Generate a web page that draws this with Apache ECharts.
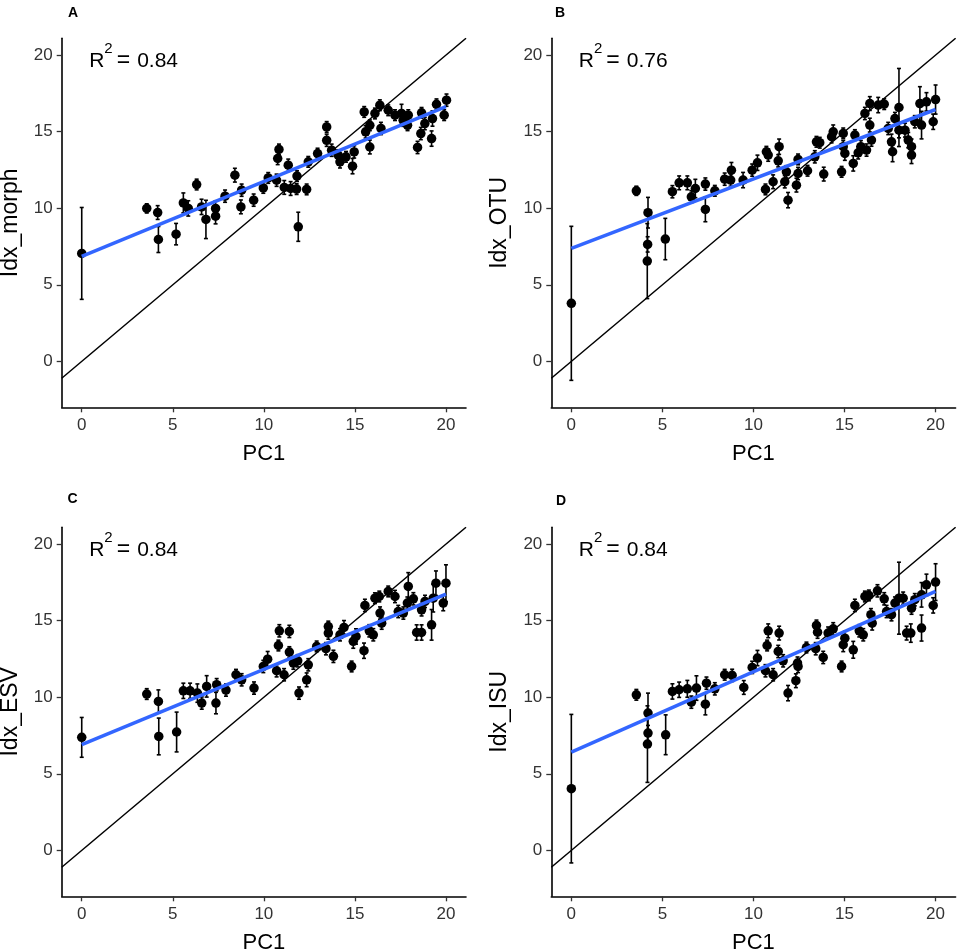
<!DOCTYPE html>
<html>
<head>
<meta charset="utf-8">
<title>Idx vs PC1</title>
<script src="https://cdn.jsdelivr.net/npm/echarts@6/dist/echarts.min.js"></script>
<style>
html, body { margin: 0; padding: 0; background: #fff; }
#main { width: 957px; height: 952px; }
</style>
</head>
<body>
<div id="main"></div>
<script>
// values: PC1 (x), index value (y), half-length of the error bar
var morphX = [0, 3.57, 4.17, 4.21, 5.18, 5.58, 5.85, 6.31, 6.58, 6.82, 7.35, 7.35, 7.87, 8.41, 8.74, 8.78, 9.44, 9.97, 10.24, 10.7, 10.76, 10.83, 11.12, 11.34, 11.47, 11.8, 11.82, 11.89, 12.35, 12.44, 12.95, 13.45, 13.45, 13.72, 14.08, 14.18, 14.51, 14.87, 14.96, 15.51, 15.59, 15.82, 15.82, 16.1, 16.37, 16.43, 16.83, 17.2, 17.56, 17.65, 17.89, 17.93, 18.44, 18.62, 18.66, 18.84, 19.21, 19.26, 19.48, 19.9, 20.03];
var morphY = [7.05, 9.99, 9.72, 7.96, 8.31, 10.35, 9.99, 11.55, 10.09, 9.27, 9.99, 9.48, 10.79, 12.16, 10.09, 11.18, 10.53, 11.33, 11.98, 11.83, 13.25, 13.84, 11.36, 12.81, 11.29, 11.25, 12.1, 8.79, 11.23, 13.03, 13.57, 15.31, 14.44, 13.79, 13.47, 13.03, 13.36, 12.75, 13.68, 16.29, 14.99, 15.42, 14.0, 16.19, 16.73, 15.21, 16.4, 16.08, 16.19, 15.75, 15.42, 16.08, 13.97, 14.88, 16.23, 15.53, 14.55, 15.86, 16.79, 16.08, 17.06];
var morphErr = [3.0, 0.3, 0.45, 0.85, 0.7, 0.65, 0.5, 0.35, 0.5, 1.25, 0.5, 0.5, 0.4, 0.45, 0.45, 0.4, 0.4, 0.35, 0.35, 0.4, 0.4, 0.35, 0.45, 0.4, 0.45, 0.35, 0.35, 0.95, 0.35, 0.35, 0.35, 0.35, 0.4, 0.4, 0.35, 0.4, 0.35, 0.5, 0.4, 0.35, 0.4, 0.35, 0.45, 0.35, 0.35, 0.4, 0.35, 0.35, 0.6, 0.4, 0.35, 0.35, 0.4, 0.4, 0.35, 0.4, 0.5, 0.5, 0.35, 0.35, 0.4];

var otuX = [0, 3.57, 4.21, 4.19, 4.17, 5.16, 5.55, 5.92, 6.37, 6.59, 6.81, 7.36, 7.36, 7.88, 8.42, 8.75, 8.79, 9.43, 9.93, 10.22, 10.66, 10.71, 10.81, 11.08, 11.36, 11.41, 11.72, 11.81, 11.9, 12.36, 12.45, 12.45, 12.97, 13.37, 13.46, 13.64, 13.86, 14.29, 14.38, 14.84, 14.93, 14.93, 15.02, 15.48, 15.57, 15.75, 15.9, 16.12, 16.21, 16.39, 16.39, 16.48, 16.85, 17.18, 17.4, 17.58, 17.64, 17.77, 17.99, 17.99, 18.32, 18.5, 18.68, 18.68, 18.86, 19.14, 19.23, 19.5, 19.87, 20.0];
var otuY = [3.79, 11.14, 9.71, 7.64, 6.55, 7.99, 11.08, 11.66, 11.66, 10.75, 11.29, 11.58, 9.92, 11.14, 11.9, 11.84, 12.49, 11.84, 12.49, 12.97, 11.23, 13.69, 13.47, 11.73, 13.1, 14.02, 11.73, 12.38, 10.53, 11.51, 12.27, 13.19, 12.45, 13.36, 14.34, 14.28, 12.23, 14.67, 14.99, 12.38, 14.89, 14.02, 13.58, 12.93, 14.78, 13.62, 14.02, 16.19, 13.8, 15.43, 16.84, 14.45, 16.74, 16.8, 15.21, 14.34, 13.69, 15.86, 16.58, 15.1, 15.1, 14.45, 14.02, 13.47, 15.65, 16.84, 15.43, 16.95, 15.65, 17.1];
var otuErr = [5.03, 0.3, 1.0, 0.5, 2.45, 1.35, 0.4, 0.45, 0.45, 0.4, 0.6, 0.4, 0.8, 0.35, 0.4, 0.4, 0.5, 0.5, 0.4, 0.5, 0.35, 0.35, 0.4, 0.45, 0.4, 0.5, 0.4, 0.4, 0.5, 0.45, 0.4, 0.35, 0.35, 0.4, 0.35, 0.35, 0.45, 0.4, 0.45, 0.35, 0.35, 0.4, 0.45, 0.5, 0.35, 0.4, 0.4, 0.4, 0.4, 0.45, 0.45, 0.4, 0.5, 0.35, 0.4, 0.5, 0.65, 0.4, 2.55, 0.5, 0.45, 0.5, 0.5, 0.55, 0.4, 1.1, 0.9, 0.6, 0.5, 0.95];

var esvX = [0, 3.57, 4.21, 4.23, 5.21, 5.58, 5.95, 6.35, 6.59, 6.86, 7.37, 7.41, 7.92, 8.47, 8.78, 9.46, 9.97, 10.21, 10.7, 10.8, 10.85, 11.11, 11.4, 11.4, 11.62, 11.86, 11.93, 12.35, 12.44, 12.9, 13.41, 13.54, 13.54, 13.82, 14.18, 14.4, 14.82, 14.91, 15.06, 15.5, 15.55, 15.79, 16.01, 16.1, 16.34, 16.38, 16.47, 16.83, 17.2, 17.38, 17.66, 17.88, 17.93, 18.21, 18.39, 18.66, 18.66, 18.85, 19.21, 19.3, 19.45, 19.85, 20.0];
var esvY = [7.38, 10.21, 9.73, 7.44, 7.73, 10.42, 10.42, 10.27, 9.62, 10.71, 9.62, 10.82, 10.47, 11.47, 11.14, 10.6, 12.01, 12.49, 11.73, 13.38, 14.34, 11.47, 14.3, 12.95, 12.23, 12.38, 10.27, 11.14, 12.12, 13.32, 13.17, 14.62, 14.19, 12.67, 14.08, 14.56, 12.01, 13.65, 13.97, 13.04, 16.0, 14.34, 14.08, 16.47, 16.58, 15.5, 14.84, 16.91, 16.58, 15.6, 15.5, 16.15, 17.24, 16.43, 14.23, 14.23, 15.71, 16.26, 14.73, 16.47, 17.45, 16.15, 17.45];
var esvErr = [1.3, 0.35, 0.75, 1.2, 1.3, 0.5, 0.5, 0.6, 0.4, 0.7, 0.7, 0.4, 0.4, 0.35, 0.4, 0.4, 0.4, 0.5, 0.4, 0.35, 0.4, 0.4, 0.4, 0.35, 0.4, 0.4, 0.4, 0.45, 0.4, 0.35, 0.4, 0.35, 0.4, 0.4, 0.4, 0.45, 0.35, 0.45, 0.5, 0.5, 0.4, 0.4, 0.4, 0.35, 0.35, 0.4, 0.4, 0.35, 0.4, 0.4, 0.4, 0.4, 0.9, 0.4, 0.5, 0.5, 0.4, 0.4, 1.0, 0.9, 0.8, 0.5, 1.2];

var isuX = [0, 3.57, 4.21, 4.21, 4.18, 5.18, 5.55, 5.92, 6.37, 6.59, 6.87, 7.36, 7.42, 7.88, 8.42, 8.83, 9.47, 9.93, 10.22, 10.66, 10.75, 10.81, 11.08, 11.41, 11.36, 11.63, 11.9, 12.33, 12.42, 12.45, 12.91, 13.42, 13.46, 13.52, 13.83, 14.1, 14.38, 14.84, 14.93, 15.02, 15.48, 15.57, 15.81, 16.03, 16.12, 16.34, 16.45, 16.52, 16.81, 17.18, 17.31, 17.58, 17.77, 17.99, 18.22, 18.41, 18.64, 18.68, 18.86, 19.23, 19.23, 19.5, 19.87, 20.0];
var isuY = [4.03, 10.16, 8.97, 7.66, 6.94, 7.55, 10.38, 10.49, 10.55, 9.68, 10.6, 9.55, 10.92, 10.55, 11.47, 11.43, 10.64, 11.95, 12.56, 11.73, 13.38, 14.34, 11.47, 14.19, 12.99, 12.38, 10.27, 11.08, 12.23, 12.01, 13.25, 13.17, 14.69, 14.25, 12.6, 14.19, 14.47, 12.01, 13.43, 13.86, 13.1, 16.0, 14.34, 14.08, 16.58, 16.65, 15.39, 14.84, 16.95, 16.43, 15.6, 15.39, 16.15, 16.47, 16.47, 14.19, 14.19, 15.82, 16.37, 14.52, 16.69, 17.34, 16.0, 17.52];
var isuErr = [4.85, 0.35, 1.3, 0.5, 2.5, 1.3, 0.5, 0.5, 0.55, 0.4, 0.8, 0.7, 0.4, 0.4, 0.35, 0.4, 0.45, 0.4, 0.5, 0.4, 0.35, 0.45, 0.4, 0.45, 0.4, 0.4, 0.5, 0.45, 0.4, 0.4, 0.35, 0.4, 0.35, 0.4, 0.4, 0.4, 0.4, 0.35, 0.45, 0.45, 0.55, 0.4, 0.4, 0.4, 0.35, 0.35, 0.4, 0.45, 0.4, 0.4, 0.4, 0.4, 0.4, 2.35, 0.4, 0.45, 0.6, 0.4, 0.4, 0.85, 0.8, 0.7, 0.5, 1.2];

var panelLetters = ['A', 'B', 'C', 'D'];
var yTitles = ['Idx_morph', 'Idx_OTU', 'Idx_ESV', 'Idx_ISU'];
var r2Values = ['0.84', '0.76', '0.84', '0.84'];
// fitted line read at PC1 = 0 and PC1 = 20
var fitAt0 = [6.85, 7.38, 6.9, 6.42];
var fitAt20 = [16.63, 16.45, 16.74, 16.91];
var tickValues = [0, 5, 10, 15, 20];

var xs = [morphX, otuX, esvX, isuX];
var ys = [morphY, otuY, esvY, isuY];
var errs = [morphErr, otuErr, esvErr, isuErr];

var xMin = -1.1, xMax = 21.1, yMin = -3.0, yMax = 21.1;
var font = 'Liberation Sans, Arial, Helvetica, sans-serif';
var gridLeft = [61.7, 551.3, 61.7, 551.3];
var gridTop = [38.3, 38.3, 527.3, 527.3];
var gridW = 404.3, gridH = 369;
var letterPos = [[73, 13.5], [560, 13.5], [72.5, 499], [561, 501.5]];

var myChart = echarts.init(document.getElementById('main'), null, {renderer: 'canvas'});

function errorBar(params, api) {
    var x = api.value(0);
    var top = api.coord([x, api.value(2)]);
    var bot = api.coord([x, api.value(1)]);
    var cap = 2;
    var st = {stroke: '#000', lineWidth: 1.6};
    return {
        type: 'group',
        children: [
            {type: 'line', shape: {x1: top[0], y1: top[1], x2: bot[0], y2: bot[1]}, style: st},
            {type: 'line', shape: {x1: top[0] - cap, y1: top[1], x2: top[0] + cap, y2: top[1]}, style: st},
            {type: 'line', shape: {x1: bot[0] - cap, y1: bot[1], x2: bot[0] + cap, y2: bot[1]}, style: st}
        ]
    };
}

var grids = [], xAxes = [], yAxes = [], series = [], graphics = [];
for (var p = 0; p < 4; p++) {
    grids.push({left: gridLeft[p], top: gridTop[p], width: gridW, height: gridH, outerBoundsMode: 'none', containLabel: false});
    xAxes.push({
        gridIndex: p, type: 'value', min: xMin, max: xMax,
        name: 'PC1', nameLocation: 'middle', nameGap: 36,
        nameTextStyle: {fontFamily: font, fontSize: 22, color: '#000'},
        axisLine: {show: true, onZero: false, lineStyle: {color: '#000', width: 1.6}},
        axisTick: {show: true, length: 5, customValues: tickValues, lineStyle: {color: '#333', width: 1.3}},
        axisLabel: {customValues: tickValues, margin: 10, fontFamily: font, fontSize: 17, color: '#333'},
        splitLine: {show: false}
    });
    yAxes.push({
        gridIndex: p, type: 'value', min: yMin, max: yMax,
        name: yTitles[p], nameLocation: 'middle', nameGap: 40,
        nameTextStyle: {fontFamily: font, fontSize: 23, color: '#000'},
        axisLine: {show: true, onZero: false, lineStyle: {color: '#000', width: 1.6}},
        axisTick: {show: true, length: 5, customValues: tickValues, lineStyle: {color: '#333', width: 1.3}},
        axisLabel: {customValues: tickValues, margin: 9, fontFamily: font, fontSize: 17, color: '#333'},
        splitLine: {show: false}
    });

    var pts = [], bars = [];
    for (var i = 0; i < xs[p].length; i++) {
        pts.push([xs[p][i], ys[p][i]]);
        bars.push([xs[p][i], ys[p][i] - errs[p][i], ys[p][i] + errs[p][i]]);
    }

    // 1:1 reference line across the whole panel
    series.push({
        type: 'line', xAxisIndex: p, yAxisIndex: p, silent: true, symbol: 'none', z: 1,
        data: [[xMin, xMin], [xMax, xMax]],
        lineStyle: {color: '#000', width: 1.5}
    });
    series.push({
        type: 'custom', xAxisIndex: p, yAxisIndex: p, silent: true, z: 2,
        renderItem: errorBar, encode: {x: 0, y: [1, 2]},
        data: bars
    });
    series.push({
        type: 'scatter', xAxisIndex: p, yAxisIndex: p, silent: true, z: 3,
        symbol: 'circle', symbolSize: 9.5,
        itemStyle: {color: '#000', opacity: 1},
        data: pts
    });
    series.push({
        type: 'line', xAxisIndex: p, yAxisIndex: p, silent: true, symbol: 'none', z: 4,
        data: [[0, fitAt0[p]], [20, fitAt20[p]]],
        lineStyle: {color: '#3366FF', width: 3.5}
    });

    graphics.push({
        type: 'text', x: letterPos[p][0], y: letterPos[p][1],
        style: {text: panelLetters[p], fontFamily: font, fontSize: 14, fontWeight: 'bold', fill: '#000', align: 'center', verticalAlign: 'middle'}
    });
    graphics.push({
        type: 'text', x: gridLeft[p] + 27.5, y: gridTop[p] + 22.5,
        style: {
            text: '{r|R}{s|2}{e|=}{r|' + r2Values[p] + '}',
            verticalAlign: 'middle', align: 'left',
            rich: {
                r: {fontFamily: font, fontSize: 21, fill: '#000', lineHeight: 38},
                s: {fontFamily: font, fontSize: 15, fill: '#000', verticalAlign: 'top', lineHeight: 12},
                e: {fontFamily: font, fontSize: 23, fill: '#000', lineHeight: 38, padding: [0, 7, 0, 4]}
            }
        }
    });
}

var option = {
    backgroundColor: '#fff',
    animation: false,
    grid: grids,
    xAxis: xAxes,
    yAxis: yAxes,
    series: series,
    graphic: graphics
};
myChart.setOption(option);
</script>
</body>
</html>
